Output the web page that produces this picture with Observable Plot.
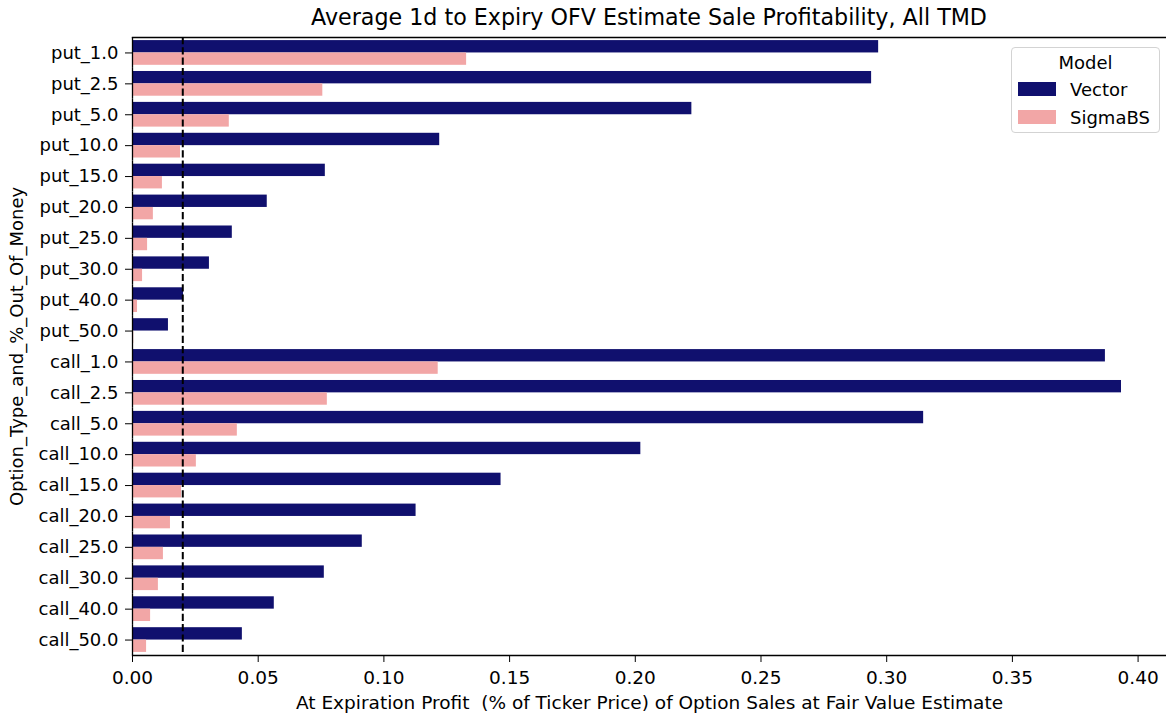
<!DOCTYPE html>
<html>
<head>
<meta charset="utf-8">
<script src="https://cdn.jsdelivr.net/npm/d3@7"></script>
<script src="https://cdn.jsdelivr.net/npm/@observablehq/plot@0.6"></script>
<style>
  html, body { margin: 0; padding: 0; background: white; }
  body { width: 1166px; height: 714px; position: relative; font-family: "DejaVu Sans", sans-serif; color: black; overflow: hidden; }
  #title { height: 35px; line-height: 35px; padding-left: 132px; width: 1034px; text-align: center; font-size: 22.2px; white-space: nowrap; }
  #chart { height: 679px; }
  #legend { position: absolute; left: 1011px; top: 47px; width: 147px; height: 84px; border: 1px solid #d3d3d3; border-radius: 4px; background: rgba(255,255,255,0.8); font-size: 18px; }
  #legend .ttl { position: absolute; left: 0; width: 100%; top: 4px; text-align: center; line-height: 22px; }
  #legend .row { position: absolute; left: 6px; height: 22px; line-height: 22px; white-space: nowrap; }
  #legend .sw { display: inline-block; width: 38px; height: 14px; vertical-align: middle; margin-right: 14px; position: relative; top: -2px; }
</style>
</head>
<body>
<div id="title">Average 1d to Expiry OFV Estimate Sale Profitability, All TMD</div>
<div id="chart"></div>
<div id="legend"></div>
<script>
const categories = ["put_1.0","put_2.5","put_5.0","put_10.0","put_15.0","put_20.0","put_25.0","put_30.0","put_40.0","put_50.0",
                    "call_1.0","call_2.5","call_5.0","call_10.0","call_15.0","call_20.0","call_25.0","call_30.0","call_40.0","call_50.0"];
const models = ["Vector", "SigmaBS"];
const vectorValues = [0.2968, 0.2940, 0.2225, 0.1222, 0.0767, 0.0536, 0.0397, 0.0306, 0.0203, 0.0143,
                      0.3870, 0.3934, 0.3147, 0.2022, 0.1466, 0.1128, 0.0914, 0.0763, 0.0564, 0.0437];
const sigmaValues  = [0.1329, 0.0757, 0.0385, 0.0191, 0.0119, 0.0083, 0.0060, 0.0040, 0.0020, 0.0005,
                      0.1216, 0.0775, 0.0417, 0.0254, 0.0195, 0.0151, 0.0123, 0.0103, 0.0072, 0.0056];
const modelColors = ["#10106e", "#f2a6a6"];
const xTicks = [0, 0.05, 0.10, 0.15, 0.20, 0.25, 0.30, 0.35, 0.40];
const xMax = 0.4113;
const threshold = 0.02;
const xLabel = "At Expiration Profit  (% of Ticker Price) of Option Sales at Fair Value Estimate";
const yLabel = "Option_Type_and_%_Out_Of_Money";

const table = categories.flatMap((c, i) => [
  {cat: c, model: models[0], value: vectorValues[i]},
  {cat: c, model: models[1], value: sigmaValues[i]}
]);

const chart = Plot.plot({
  width: 1166,
  height: 679,
  marginLeft: 132,
  marginRight: 0,
  marginTop: 2,
  marginBottom: 59,
  style: {fontFamily: "DejaVu Sans, sans-serif", fontSize: "18px", color: "black", background: "white", overflow: "visible"},
  x: {domain: [0, xMax]},
  y: {domain: models, paddingInner: 0, paddingOuter: 0.25, round: false, axis: null},
  fy: {domain: categories, padding: 0, round: false, axis: null},
  color: {domain: models, range: modelColors},
  marks: [
    Plot.barX(table, {x: "value", y: "model", fy: "cat", fill: "model"}),
    Plot.ruleX([threshold], {stroke: "black", strokeWidth: 2, strokeDasharray: "7.2,3.1"}),
    Plot.ruleX([0], {stroke: "black", strokeWidth: 1.3}),
    Plot.frame({anchor: "top", facetAnchor: "top", stroke: "black", strokeWidth: 1.3}),
    Plot.frame({anchor: "bottom", facetAnchor: "bottom", stroke: "black", strokeWidth: 1.3}),
    Plot.axisX({ticks: xTicks, tickFormat: d3.format(".2f"), tickSize: 7, tickPadding: 8,
                label: xLabel, labelAnchor: "center", labelArrow: "none", labelOffset: 53,
                fontSize: "18.5px"}),
    Plot.axisFy({anchor: "left", tickSize: 7, tickPadding: 7,
                 label: yLabel, labelAnchor: "center", labelOffset: 122})
  ]
});
document.getElementById("chart").appendChild(chart);

const legend = document.getElementById("legend");
const ttl = document.createElement("div");
ttl.className = "ttl";
ttl.textContent = "Model";
legend.appendChild(ttl);
models.forEach((m, i) => {
  const row = document.createElement("div");
  row.className = "row";
  row.style.top = (31 + i * 28) + "px";
  const sw = document.createElement("span");
  sw.className = "sw";
  sw.style.background = modelColors[i];
  row.appendChild(sw);
  row.appendChild(document.createTextNode(m));
  legend.appendChild(row);
});
</script>
</body>
</html>
